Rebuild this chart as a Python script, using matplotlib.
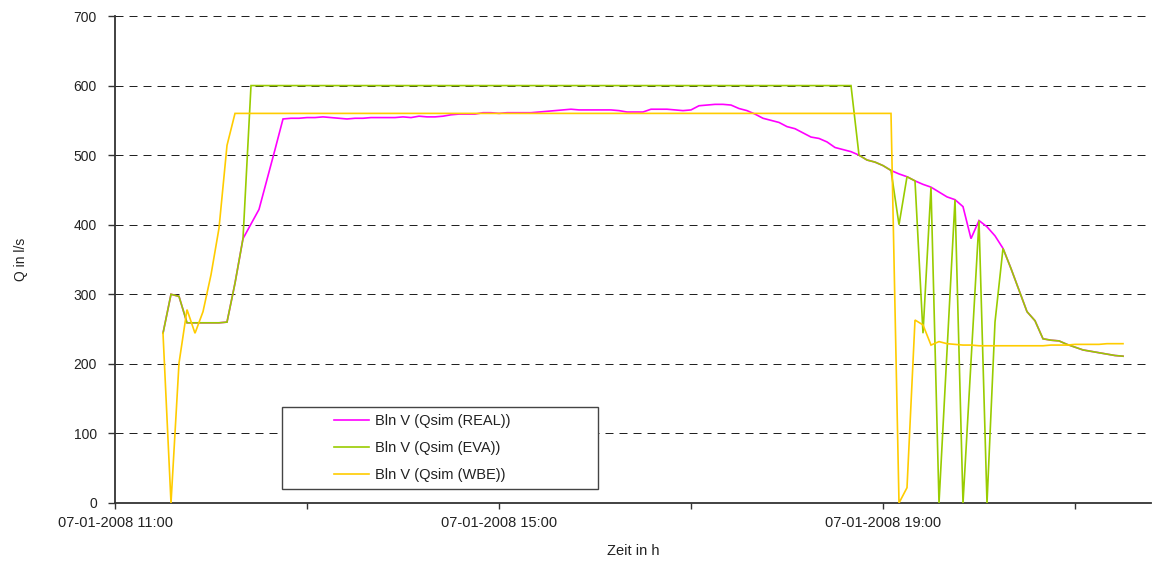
import matplotlib
matplotlib.use("Agg")
import matplotlib.pyplot as plt
from matplotlib.patches import Rectangle
import numpy as np

# ---- data (5-minute steps starting 07-01-2008 11:30) ----
start_hour = 11.5
step_minutes = 5

real = [244, 300, 297, 259, 259, 259, 259, 259, 260, 316,
        380, 401, 422, 465, 508, 552, 553, 553, 554, 554,
        555, 554, 553, 552, 553, 553, 554, 554, 554, 554,
        555, 554, 556, 555, 555, 556, 558, 559, 559, 559,
        561, 561, 560, 561, 561, 561, 561, 562, 563, 564,
        565, 566, 565, 565, 565, 565, 565, 564, 562, 562,
        562, 566, 566, 566, 565, 564, 565, 571, 572, 573,
        573, 572, 567, 564, 559, 553, 550, 547, 541, 538,
        532, 526, 524, 519, 511, 508, 505, 500, 493, 490,
        485, 478, 473, 469, 463, 458, 454, 447, 440, 436,
        426, 380, 406, 397, 384, 366, 337, 306, 275, 262,
        236, 234, 233, 228, 224, 220, 218, 216, 214, 212,
        211]

eva = [244, 300, 297, 259, 259, 259, 259, 259, 260, 316,
       380, 600, 600, 600, 600, 600, 600, 600, 600, 600,
       600, 600, 600, 600, 600, 600, 600, 600, 600, 600,
       600, 600, 600, 600, 600, 600, 600, 600, 600, 600,
       600, 600, 600, 600, 600, 600, 600, 600, 600, 600,
       600, 600, 600, 600, 600, 600, 600, 600, 600, 600,
       600, 600, 600, 600, 600, 600, 600, 600, 600, 600,
       600, 600, 600, 600, 600, 600, 600, 600, 600, 600,
       600, 600, 600, 600, 600, 600, 600, 500, 493, 490,
       485, 478, 400, 469, 463, 244, 454, 0, 218, 436,
       0, 203, 406, 0, 260, 366, 337, 306, 275, 262,
       236, 234, 233, 228, 224, 220, 218, 216, 214, 212,
       211]

wbe = [244, 0, 201, 278, 244, 275, 328, 395, 514, 560,
       560, 560, 560, 560, 560, 560, 560, 560, 560, 560,
       560, 560, 560, 560, 560, 560, 560, 560, 560, 560,
       560, 560, 560, 560, 560, 560, 560, 560, 560, 560,
       560, 560, 560, 560, 560, 560, 560, 560, 560, 560,
       560, 560, 560, 560, 560, 560, 560, 560, 560, 560,
       560, 560, 560, 560, 560, 560, 560, 560, 560, 560,
       560, 560, 560, 560, 560, 560, 560, 560, 560, 560,
       560, 560, 560, 560, 560, 560, 560, 560, 560, 560,
       560, 560, 0, 22, 263, 256, 227, 232, 229, 228,
       227, 227, 226, 226, 226, 226, 226, 226, 226, 226,
       226, 227, 227, 227, 228, 228, 228, 228, 229, 229,
       229]

series_labels = ["Bln V (Qsim (REAL))", "Bln V (Qsim (EVA))", "Bln V (Qsim (WBE))"]
series_colors = ["#FF00FF", "#99CC00", "#FFCC00"]

tick_hours = [11, 13, 15, 17, 19, 21]
labeled_hours = [11, 15, 19]
date_label = "07-01-2008"
y_ticks = [0, 100, 200, 300, 400, 500, 600, 700]

# ---- figure ----
W, H = 1152, 563
fig = plt.figure(figsize=(W / 100, H / 100), dpi=100)
plt.rcParams['font.family'] = ['Liberation Sans', 'DejaVu Sans']

ax_l, ax_r, ax_t, ax_b = 115, 1151, 16, 503
ax = fig.add_axes([ax_l / W, 1 - ax_b / H, (ax_r - ax_l) / W, (ax_b - ax_t) / H])

t = start_hour + np.arange(len(real)) * step_minutes / 60.0
for vals, lab, col in zip([real, eva, wbe], series_labels, series_colors):
    ax.plot(t, vals, color=col, lw=1.2, label=lab, zorder=4, solid_joinstyle='miter')

x_max = 11 + (ax_r - ax_l) / 96.0
ax.set_xlim(11, x_max)
ax.set_ylim(0, 700)

ax.set_yticks(y_ticks)
ax.set_yticklabels([str(v) for v in y_ticks], fontsize=10, color='#222222')
ax.set_xticks(tick_hours)
ax.set_xticklabels([f"{date_label} {h:02d}:00" if h in labeled_hours else "" for h in tick_hours],
                   fontsize=10.5, color='#222222')

ax.tick_params(axis='y', direction='out', length=5, width=1, color='#333333', pad=8)
ax.tick_params(axis='x', direction='out', length=4, width=1, color='#333333', pad=5.5)

for s in ['top', 'right']:
    ax.spines[s].set_visible(False)
for s in ['left', 'bottom']:
    ax.spines[s].set_color('#333333')
    ax.spines[s].set_linewidth(1.3)

ax.yaxis.grid(True, color='#222222', linestyle=(0, (8, 6)), linewidth=0.72)
ax.set_axisbelow(True)

ax.set_xlabel("Zeit in h", fontsize=10.5, labelpad=10, color='#222222')
ax.set_ylabel("Q in l/s", fontsize=10, labelpad=33, color='#222222')

# legend box
lx0, lx1, ly0, ly1 = 282, 598, 407, 489
ax.add_patch(Rectangle((lx0 / W, 1 - ly1 / H), (lx1 - lx0) / W, (ly1 - ly0) / H,
                       transform=fig.transFigure, facecolor='white', edgecolor='#444444',
                       lw=1.0, zorder=5, clip_on=False))
leg = ax.legend(loc='center left', bbox_to_anchor=(334 / W, 1 - 448 / H),
                bbox_transform=fig.transFigure, frameon=False, fontsize=10.5,
                handlelength=2.4, handletextpad=0.4, labelspacing=0.88,
                borderpad=0, borderaxespad=0)
leg.set_zorder(6)
for txt in leg.get_texts():
    txt.set_color('#222222')

fig.savefig("out.png", dpi=100)
